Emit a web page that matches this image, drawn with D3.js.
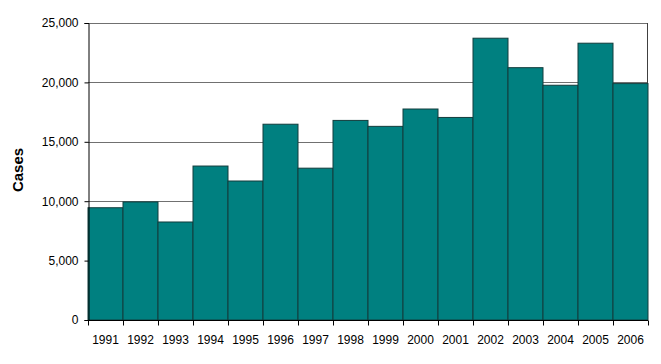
<!DOCTYPE html>
<html>
<head>
<meta charset="utf-8">
<script src="https://cdn.jsdelivr.net/npm/d3@7"></script>
<style>
  body { margin: 0; background: #fff; }
  svg text { font-family: "Liberation Sans", Arial, sans-serif; }
</style>
</head>
<body>
<div id="chart"></div>
<script>
// values
var years = ["1991","1992","1993","1994","1995","1996","1997","1998",
             "1999","2000","2001","2002","2003","2004","2005","2006"];
var cases = [9450, 9940, 8250, 12960, 11700, 16480, 12780, 16800,
             16300, 17760, 17050, 23720, 21240, 19760, 23300, 19900];
var yTicks = [0, 5000, 10000, 15000, 20000, 25000];

var width = 661, height = 364;
var margin = {top: 23, right: 13, bottom: 44, left: 88};

var svg = d3.select("#chart")
  .append("svg")
  .attr("width", width)
  .attr("height", height);

var x = d3.scaleBand()
  .domain(years)
  .range([margin.left, width - margin.right])
  .padding(0);

var y = d3.scaleLinear()
  .domain([0, 25000])
  .range([height - margin.bottom, margin.top]);

// gridlines
svg.append("g")
  .selectAll("line")
  .data(yTicks.filter(function(d) { return d > 0; }))
  .enter().append("line")
  .attr("x1", margin.left)
  .attr("x2", width - margin.right)
  .attr("y1", function(d) { return Math.round(y(d)) + 0.5; })
  .attr("y2", function(d) { return Math.round(y(d)) + 0.5; })
  .style("stroke", "#707070")
  .style("stroke-width", 1);

// right frame
svg.append("line")
  .attr("x1", width - margin.right - 0.5)
  .attr("x2", width - margin.right - 0.5)
  .attr("y1", margin.top)
  .attr("y2", height - margin.bottom)
  .style("stroke", "#404040");

// bars
svg.append("g")
  .selectAll("rect")
  .data(cases)
  .enter().append("rect")
  .attr("x", function(d, i) { return x(years[i]); })
  .attr("y", function(d) { return y(d); })
  .attr("width", x.bandwidth())
  .attr("height", function(d) { return y(0) - y(d); })
  .style("fill", "#008080")
  .style("stroke", "#123c3c")
  .style("stroke-width", 1);

// y axis
var yAxis = svg.append("g")
  .attr("transform", "translate(" + (margin.left + 0.5) + ",0)")
  .call(d3.axisLeft(y).tickValues(yTicks).tickSize(4).tickPadding(6)
        .tickFormat(d3.format(",")));
yAxis.selectAll("text").style("font-size", "12px").style("fill", "#000");
yAxis.selectAll("line, path").style("stroke", "#000");

// x axis, ticks at bar edges
var xAxis = svg.append("g")
  .attr("transform", "translate(0," + (y(0) + 0.5) + ")");
xAxis.append("line")
  .attr("x1", margin.left)
  .attr("x2", width - margin.right)
  .style("stroke", "#000");
xAxis.selectAll(".tk")
  .data(years.concat(["end"]))
  .enter().append("line")
  .attr("class", "tk")
  .attr("x1", function(d, i) { return Math.round(margin.left + i * x.bandwidth()) + 0.5; })
  .attr("x2", function(d, i) { return Math.round(margin.left + i * x.bandwidth()) + 0.5; })
  .attr("y1", 0)
  .attr("y2", 5)
  .style("stroke", "#000");
xAxis.selectAll(".lbl")
  .data(years)
  .enter().append("text")
  .attr("class", "lbl")
  .attr("x", function(d) { return x(d) + x.bandwidth() / 2; })
  .attr("y", 23)
  .attr("text-anchor", "middle")
  .style("font-size", "12px")
  .text(function(d) { return d; });

// y title
svg.append("text")
  .attr("transform", "translate(23,170) rotate(-90)")
  .attr("text-anchor", "middle")
  .style("font-size", "15px")
  .style("font-weight", "bold")
  .text("Cases");
</script>
</body>
</html>
